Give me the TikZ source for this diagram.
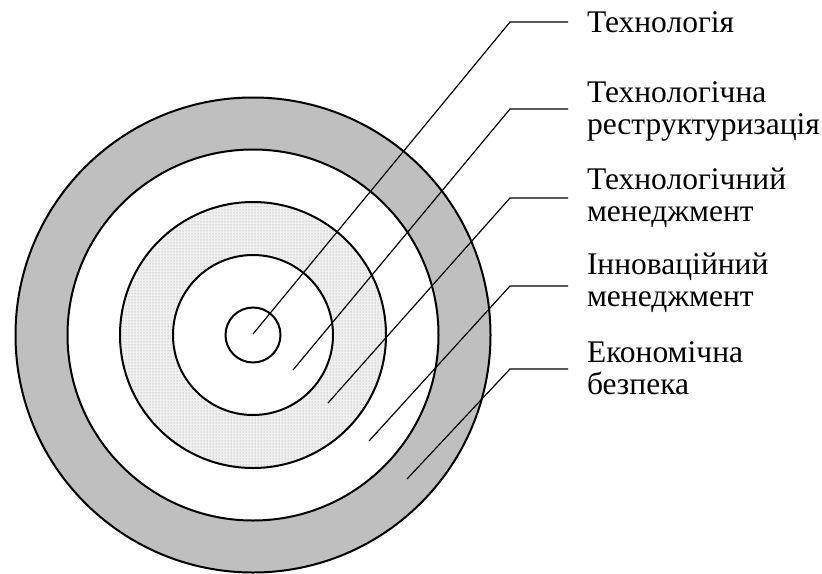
\documentclass[tikz,border=0pt]{standalone}
\usepackage{fontspec}
\setmainfont{Liberation Serif}
\usetikzlibrary{calc, patterns, positioning}

\begin{document}
\begin{tikzpicture}[x=1pt,y=-1pt,
	ring/.style={line width=2pt},
	leader/.style={line width=1.2pt},
	lbl/.style={anchor=west,align=left,inner sep=0pt,outer xsep=19pt,font=\fontsize{31.5}{32}\selectfont}]
	\useasboundingbox (0,0) rectangle (822,573);
	\coordinate (O) at (253,335);
	
	\fill[black!25] (O) circle (237.5pt);
	\fill[white] (O) circle (185.5pt);
	\fill[black!6] (O) circle (133pt);
	\fill[pattern=dots,pattern color=black!40] (O) circle (133pt);
	\fill[white] (O) circle (80pt);
	\foreach \r in {27.5,80,133,185.5,237.5}
		\draw[ring] (O) circle (\r pt);
	
	\coordinate (E1) at (253,334);
	\coordinate (E2) at (293,370);
	\coordinate (E3) at (328,403);
	\coordinate (E4) at (369,441);
	\coordinate (E5) at (407,479);
	
	\coordinate (B1) at (510,22);
	\coordinate (B2) at (510,109);
	\coordinate (B3) at (510,198);
	\coordinate (B4) at (510,286);
	\coordinate (B5) at (510,369);
	
	\node[lbl] (tech)  at (568,22)    {Технологія};
	\node[lbl] (restr) at (568,111)   {Технологічна\\реструктуризація};
	\node[lbl] (tmgmt) at (568,197.5) {Технологічний\\менеджмент};
	\node[lbl] (imgmt) at (568,283)   {Інноваційний\\менеджмент};
	\node[lbl] (econ)  at (568,368)   {Економічна\\безпека};
	
	\draw[leader] (E1)--(B1)--(B1 -| tech.west);
	\draw[leader] (E2)--(B2)--(B2 -| restr.west);
	\draw[leader] (E3)--(B3)--(B3 -| tmgmt.west);
	\draw[leader] (E4)--(B4)--(B4 -| imgmt.west);
	\draw[leader] (E5)--(B5)--(B5 -| econ.west);
\end{tikzpicture}
\end{document}
